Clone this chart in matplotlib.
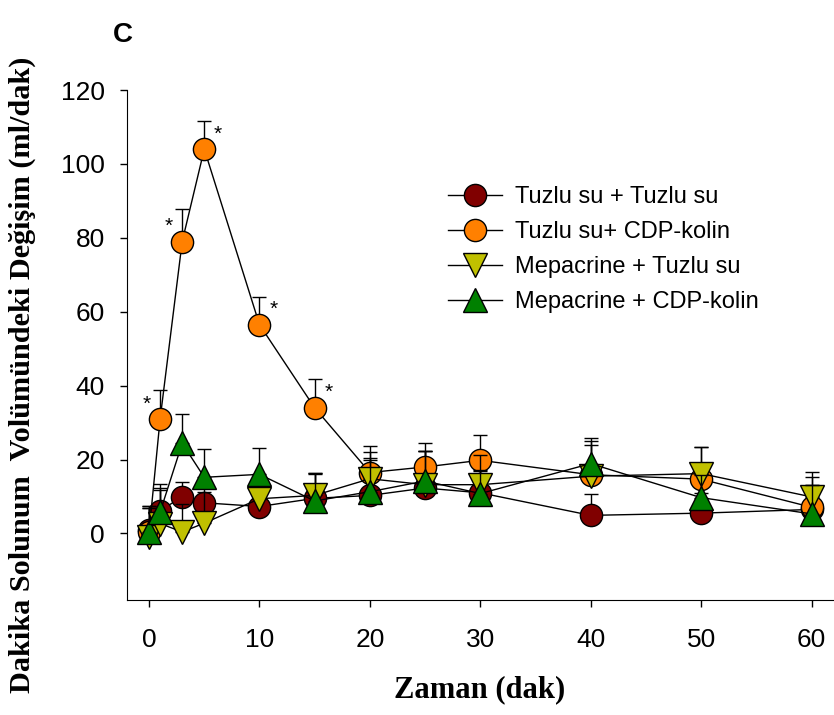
import matplotlib
matplotlib.use('Agg')
import matplotlib.pyplot as plt

# Dakika solunum volümündeki değişim (ml/dak), ortalama + üst hata
time = [0, 1, 3, 5, 10, 15, 20, 25, 30, 40, 50, 60]

saline_saline = [1, 6.2, 9.9, 8.3, 7.3, 9.5, 10.3, 12.3, 11, 4.9, 5.5, 6.5]
saline_saline_err = [6, 6, 4, 6, 5, 6.5, 10, 10, 6, 5.8, 5.5, 6.5]

saline_cdp = [0.4, 31, 79, 104, 56.5, 34, 16.5, 18, 19.8, 15.9, 14.7, 7.1]
saline_cdp_err = [7, 7.8, 8.8, 7.7, 7.6, 7.7, 7.2, 6.5, 6.8, 10, 8.7, 9.5]

mepa_saline = [-1, 2.7, 0.4, 2.8, 9.4, 10.3, 14.8, 13.2, 13.2, 15.5, 16.2, 9.9]
mepa_saline_err = [8, 9, 7.7, 8.4, 3.6, 6, 7.2, 9, 8, 8.4, 7.2, 5.4]

mepa_cdp = [0.5, 5.8, 24.4, 15.2, 16, 8.8, 11.3, 14.2, 10.8, 18.9, 9.7, 5.3]
mepa_cdp_err = [7, 7.7, 8, 7.6, 7, 7.5, 8.5, 8, 6.4, 6, 6, 7.7]

labels = ['Tuzlu su + Tuzlu su', 'Tuzlu su+ CDP-kolin',
          'Mepacrine + Tuzlu su', 'Mepacrine + CDP-kolin']

# anlamlı noktalar (*)
star_times = [1, 3, 5, 10, 15]
star_side = [-1, -1, 1, 1, 1]

fig = plt.figure(figsize=(8.34, 7.15), dpi=100)
ax = fig.add_axes([127 / 834, 1 - 600 / 715, 1 - 127 / 834 - 0.0005, (600 - 90) / 715])

series = [
    (saline_saline, saline_saline_err, 'o', '#800000', 16),
    (saline_cdp, saline_cdp_err, 'o', '#FF8000', 16),
    (mepa_saline, mepa_saline_err, 'v', '#C0C000', 17),
    (mepa_cdp, mepa_cdp_err, '^', '#008000', 17),
]

handles = []
for i, (vals, err, mk, col, ms) in enumerate(series):
    eb = ax.errorbar(time, vals, yerr=[[0] * len(err), err], fmt='-', color='black',
                     lw=1, marker=mk, markersize=ms, markerfacecolor=col,
                     markeredgecolor='black', markeredgewidth=1,
                     ecolor='black', elinewidth=1, capsize=5, capthick=1,
                     zorder=2 + i)
    handles.append(eb[0])

for t, side in zip(star_times, star_side):
    k = time.index(t)
    ax.annotate('*', (t, saline_cdp[k]), xytext=(10 * side, 4), textcoords='offset points',
                ha='center', va='bottom', fontsize=15, family='Liberation Sans')

ax.set_xlim(-2, 62)
ax.set_ylim(-18, 120)
ax.set_xticks([0, 10, 20, 30, 40, 50, 60])
ax.set_yticks([0, 20, 40, 60, 80, 100, 120])
ax.spines['top'].set_visible(False)
ax.spines['right'].set_visible(False)
ax.tick_params(direction='out', length=5, width=1, labelsize=19)
ax.tick_params(axis='x', pad=15)
ax.tick_params(axis='y', pad=11)
for lab in ax.get_xticklabels() + ax.get_yticklabels():
    lab.set_family('Liberation Sans')

fig.text(480 / 834, 1 - 690 / 715, 'Zaman (dak)', ha='center', va='center',
         fontsize=22, fontweight='bold', family='Liberation Serif')
fig.text(22 / 834, 1 - 375 / 715, 'Dakika Solunum  Volümündeki Değişim (ml/dak)',
         ha='center', va='center', rotation=90,
         fontsize=21.8, fontweight='bold', family='Liberation Serif')
fig.text(113 / 834, 1 - 42 / 715, 'C', ha='left', va='baseline',
         fontsize=20, fontweight='bold', family='Liberation Sans')

fig.legend(handles, labels, loc='upper left', bbox_to_anchor=(448 / 834, 1 - 186 / 715),
           frameon=False, borderpad=0, borderaxespad=0, handlelength=2.3,
           handletextpad=0.55, labelspacing=0.55,
           prop={'family': 'Liberation Sans', 'size': 17})

fig.savefig('out.png', dpi=100)
